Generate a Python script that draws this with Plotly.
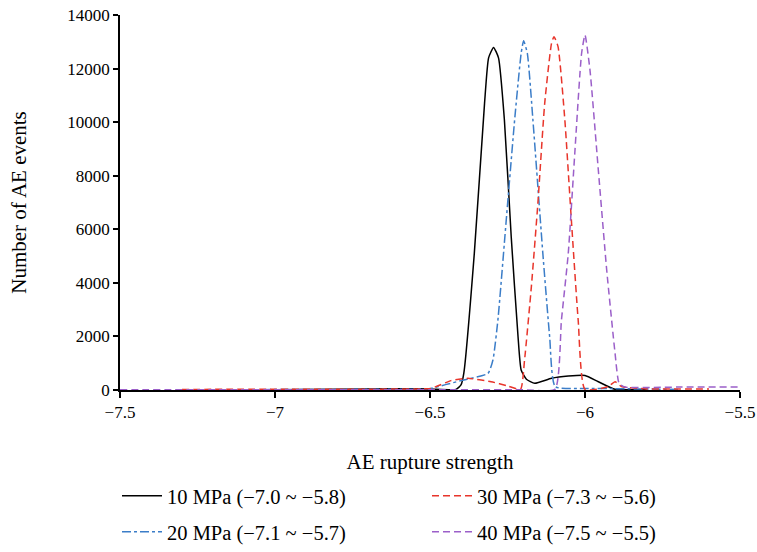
import plotly.graph_objects as go

# ---- data ----
x10 = [-7.0, -6.8, -6.6, -6.5, -6.416, -6.400, -6.391, -6.357, -6.324, -6.311, -6.295, -6.279, -6.260,
       -6.238, -6.216, -6.206, -6.189, -6.162, -6.108, -6.054, -6.0, -5.957, -5.903, -5.8]
y10 = [10, 30, 50, 40, 25, 190, 620, 5110, 10710, 12400, 12790, 12400, 10080,
       5720, 1990, 750, 400, 250, 435, 520, 545, 310, 25, 20]

x20 = [-7.1, -6.9, -6.7, -6.55, -6.497, -6.45, -6.400, -6.313, -6.297, -6.281, -6.254, -6.227, -6.206,
       -6.198, -6.186, -6.168, -6.152, -6.136, -6.114, -6.096, -6.0, -5.9, -5.7]
y20 = [10, 20, 25, 30, 60, 200, 350, 620, 1120, 2610, 6350, 10080, 12570,
       13040, 12570, 10080, 7590, 5100, 1990, 125, 60, 50, 20]

x30 = [-7.3, -7.0, -6.7, -6.55, -6.497, -6.432, -6.378, -6.303, -6.249, -6.208, -6.195, -6.173, -6.152,
       -6.130, -6.108, -6.100, -6.087, -6.065, -6.044, -6.022, -6.0, -5.925, -5.903, -5.882, -5.8, -5.6]
y30 = [20, 30, 30, 40, 60, 350, 435, 310, 150, 25, 1120, 3860, 6970,
       10700, 12940, 13190, 12820, 10080, 6350, 2610, 25, 125, 310, 125, 40, 40]

x40 = [-7.5, -7.0, -6.5, -6.2, -6.097, -6.076, -6.054, -6.033, -6.011, -6.0, -5.984, -5.957, -5.930,
       -5.903, -5.890, -5.871, -5.7, -5.5]
y40 = [10, 10, 10, 10, 25, 2610, 5100, 8830, 12570, 13250, 11950, 8210, 4480,
       1370, 250, 110, 110, 110]

names = ["10 MPa (\u22127.0 ~ \u22125.8)", "20 MPa (\u22127.1 ~ \u22125.7)",
         "30 MPa (\u22127.3 ~ \u22125.6)", "40 MPa (\u22127.5 ~ \u22125.5)"]
colors = ["#000000", "#3b7dc8", "#e8352b", "#9b5fc9"]
dashes = ["solid", "dashdot", "7px,4px", "7px,4px"]
legends = ["legend", "legend2", "legend3", "legend4"]

FONT = "Liberation Serif"
fig = go.Figure()
for xs, ys, nm, c, d, lg in zip([x10, x20, x30, x40], [y10, y20, y30, y40], names, colors, dashes, legends):
    fig.add_trace(go.Scatter(x=xs, y=ys, mode="lines", name=nm, legend=lg,
                             line=dict(color=c, width=1.5, dash=d, shape="spline", smoothing=0.5)))

leg_common = dict(orientation="h", xref="container", yref="container", xanchor="left", yanchor="middle",
                  font=dict(family=FONT, size=20.5), itemwidth=40, bgcolor="rgba(0,0,0,0)")
row1, row2 = 1 - 496 / 552, 1 - 532 / 552
col1, col2 = 117 / 757, 427 / 757

fig.update_layout(
    width=757, height=552,
    margin=dict(l=120, r=17, t=15, b=162, autoexpand=False),
    paper_bgcolor="white", plot_bgcolor="white",
    font=dict(family=FONT, size=17, color="black"),
    showlegend=True,
    legend=dict(x=col1, y=row1, **leg_common),
    legend2=dict(x=col1, y=row2, **leg_common),
    legend3=dict(x=col2, y=row1, **leg_common),
    legend4=dict(x=col2, y=row2, **leg_common),
    xaxis=dict(range=[-7.5, -5.5], dtick=0.5, tick0=-7.5, showgrid=False, zeroline=False,
               showline=True, linecolor="black", linewidth=1.5, ticks="outside", ticklen=6,
               tickwidth=1.5, tickcolor="black", ticklabeloverflow="allow",
               tickfont=dict(size=17),
               title=dict(text="AE rupture strength", standoff=33, font=dict(size=21))),
    yaxis=dict(range=[0, 14000], dtick=2000, showgrid=False, zeroline=False, tickformat="d",
               showline=True, linecolor="black", linewidth=1.5, ticks="outside", ticklen=5,
               tickwidth=1.5, tickcolor="black",
               title=dict(text="Number of AE events", standoff=35, font=dict(size=21))),
)
fig.write_html("out.html")
